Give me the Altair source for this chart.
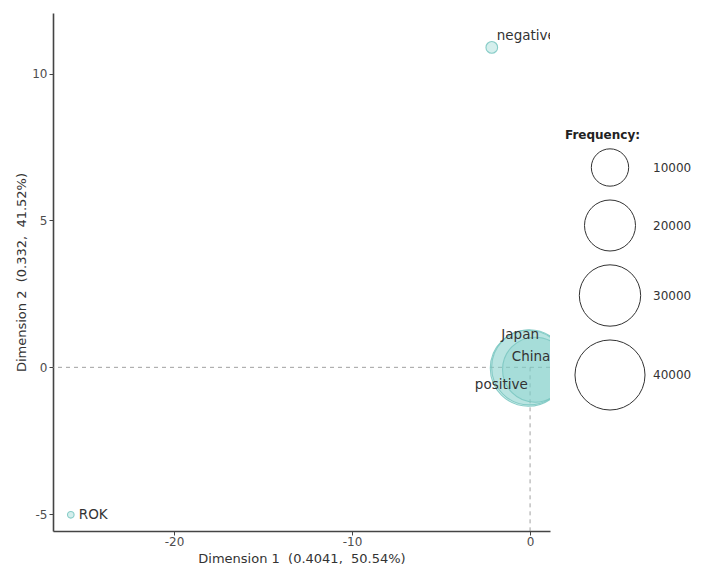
import math
import altair as alt
import pandas as pd

# ---- data ----
labels = ["negative", "ROK", "positive", "Japan", "China"]
dim1 = [-2.15, -25.8, -0.10, -0.05, 0.28]
dim2 = [10.89, -5.02, -0.03, 0.00, -0.08]
freq = [1050, 800, 47700, 46500, 34000]
legend_breaks = [10000, 20000, 30000, 40000]
legend_title = ["Frequency:"]
x_ticks = [-20, -10, 0]
y_ticks = [-5, 0, 5, 10]

# ---- layout / style ----
PLOT_W, PLOT_H = 497, 518
X_DOM = [-26.8, 1.12]
Y_DOM = [-5.57, 12.06]
FONT = "DejaVu Sans"
FILL = "#80cdc7"
STROKE = "#7cc8c2"

# bubble size mapping (radius = R_MIN + (R_MAX-R_MIN)*sqrt((f-F0)/(FMAX-F0)))
F0, FMAX = 800.0, 47700.0
R_MIN, R_MAX = 3.3, 38.0
S = math.sqrt(FMAX - F0)
C = R_MIN / (R_MAX - R_MIN) * S
VMAX = S + C
V_EXPR = f"sqrt(max(datum.freq - {F0}, 0)) + {C}"


def vval(f):
    return math.sqrt(max(f - F0, 0.0)) + C


df = pd.DataFrame({"label": labels, "dim1": dim1, "dim2": dim2, "freq": freq})
ref = pd.DataFrame({"dim1": [0], "dim2": [0]})
brk = pd.DataFrame({"freq": legend_breaks, "dim1": [0] * 4, "dim2": [0] * 4})
ttl = pd.DataFrame({"t": legend_title})

xscale = alt.Scale(domain=X_DOM, nice=False, zero=False)
yscale = alt.Scale(domain=Y_DOM, nice=False, zero=False)

x_title = "Dimension 1\u00a0 (0.4041,\u00a0 50.54%)"
y_title = "Dimension 2\u00a0 (0.332,\u00a0 41.52%)"


def X():
    return alt.X("dim1:Q", scale=xscale,
                 axis=alt.Axis(values=x_ticks, title=x_title,
                               labelExpr="'' + datum.value",
                               labelPadding=1,
                               titleBaseline="alphabetic", titleY=31))


def Y():
    return alt.Y("dim2:Q", scale=yscale,
                 axis=alt.Axis(values=y_ticks, title=y_title,
                               labelExpr="'' + datum.value"))


size_scale = alt.Scale(type="pow", exponent=2, domain=[0, VMAX],
                       range=[0, 4 * R_MAX ** 2])

hline = alt.Chart(ref).mark_rule(
    strokeDash=[4, 4], color="#888888", strokeWidth=0.8
).encode(y=Y())

vline = alt.Chart(ref).mark_rule(
    strokeDash=[4, 4], color="#888888", strokeWidth=0.8
).encode(x=X(), y=Y(), y2=alt.value(PLOT_H))

legend = alt.Legend(
    title=None,
    orient="none",
    legendX=521,
    legendY=135,
    values=[vval(b) for b in legend_breaks],
    labelExpr=f"format(round((pow(datum.value - {C}, 2) + {F0}) / 1000) * 1000, 'd')",
    symbolType="circle",
    symbolFillColor="transparent",
    symbolStrokeColor="#333333",
    symbolStrokeWidth=1,
    symbolOpacity=1,
    labelFont=FONT,
    labelFontSize=12,
    labelColor="#333333",
    labelOffset=7,
    rowPadding=8,
    padding=0,
)

# invisible layer that only carries the size legend (hollow circles)
legend_layer = alt.Chart(brk).transform_filter("false").transform_calculate(
    v=V_EXPR
).mark_point(
    shape="circle", filled=False, stroke="#333333", strokeWidth=1, opacity=1
).encode(
    x=X(), y=Y(),
    size=alt.Size("v:Q", scale=size_scale, legend=legend),
)

legend_title_layer = alt.Chart(ttl).mark_text(
    align="left", baseline="middle", font=FONT, fontSize=12,
    fontWeight="bold", color="#222222"
).encode(x=alt.value(512), y=alt.value(122), text="t:N")

points = alt.Chart(df).transform_calculate(v=V_EXPR).mark_circle(
    fill=FILL, fillOpacity=0.33, stroke=STROKE, strokeWidth=1.1,
    strokeOpacity=0.9, clip=True
).encode(
    x=X(), y=Y(),
    size=alt.Size("v:Q", scale=size_scale, legend=None),
)

label_style = {
    "negative": dict(align="left", dx=5, dy=-11),
    "ROK": dict(align="left", dx=8, dy=0),
    "Japan": dict(align="center", dx=-9, dy=-32),
    "China": dict(align="center", dx=-4, dy=-13),
    "positive": dict(align="center", dx=-27, dy=17),
}

texts = []
for name, st in label_style.items():
    texts.append(
        alt.Chart(df).transform_filter(alt.datum.label == name).mark_text(
            baseline="middle", font=FONT, fontSize=13.5, color="#333333",
            clip=True, **st
        ).encode(x=X(), y=Y(), text="label:N")
    )

chart = alt.layer(legend_layer, hline, vline, points, *texts,
                  legend_title_layer).properties(
    width=PLOT_W,
    height=PLOT_H,
    autosize=alt.AutoSizeParams(type="none"),
    padding={"left": 45, "top": 5, "right": 143, "bottom": 33},
).configure_view(
    stroke=None
).configure_axis(
    grid=False,
    domainColor="#444444",
    domainWidth=1.6,
    tickColor="#444444",
    tickSize=4,
    tickWidth=1,
    labelFont=FONT,
    labelFontSize=12,
    labelColor="#4d4d4d",
    labelPadding=2,
    titleFont=FONT,
    titleFontSize=13,
    titleFontWeight="normal",
    titleColor="#333333",
).configure_axisY(
    titlePadding=3,
)

chart.save("out.html", embed_options={"renderer": "svg", "actions": False})
